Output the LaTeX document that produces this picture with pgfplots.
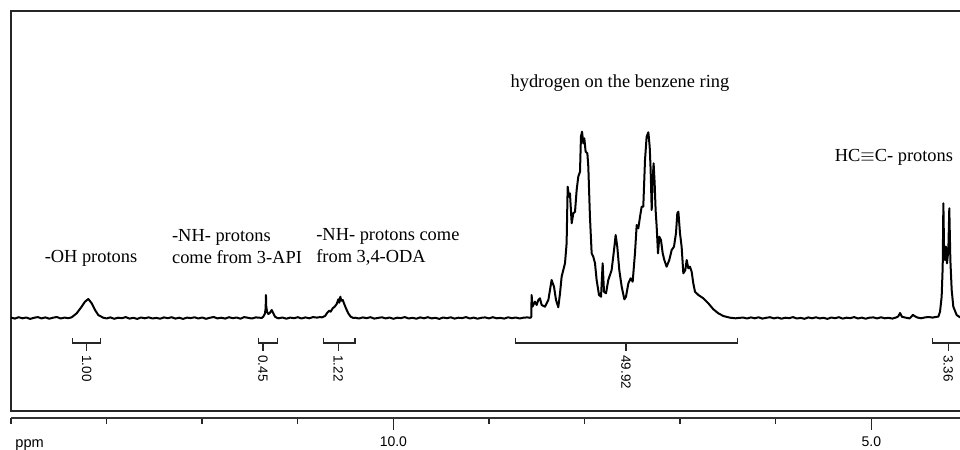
\documentclass[border=0pt]{standalone}
\usepackage{fontspec}
\setmainfont{Liberation Serif}
\setsansfont{Liberation Sans}
\usepackage{pgfplots}
\usepackage{pgfplotstable}
\pgfplotsset{compat=1.18}

% 1H NMR trace: chemical shift (ppm) and signal height
\pgfplotstableread{
ppm I
14.00 0.4
13.96 -0.6
13.92 0.8
13.88 -0.3
13.84 0.5
13.80 -0.9
13.76 0.2
13.72 0.9
13.68 -0.4
13.64 0.6
13.60 -0.7
13.56 0.3
13.52 1.0
13.48 -0.5
13.44 0.4
13.40 -0.2
13.365 0.7
13.313 4.7
13.261 11.3
13.226 16.3
13.191 19
13.156 14.7
13.121 8
13.087 3
13.035 0.3
13.00 -0.4
12.96 0.6
12.92 -0.8
12.88 0.3
12.84 -0.2
12.80 0.9
12.76 -0.6
12.72 0.2
12.68 -0.9
12.64 0.5
12.60 -0.3
12.56 0.7
12.52 -0.5
12.48 0.1
12.44 -0.7
12.40 0.6
12.36 -0.2
12.32 0.8
12.28 -0.6
12.24 0.3
12.20 -0.9
12.16 0.4
12.12 -0.1
12.08 0.7
12.04 -0.5
12.00 0.5
11.96 -0.8
11.92 0.2
11.88 1.0
11.84 -0.4
11.80 0.3
11.76 -0.6
11.72 0.8
11.68 -0.2
11.64 0.5
11.60 -0.7
11.56 0.9
11.52 0.2
11.48 -0.5
11.44 0.6
11.40 0.3
11.378 0
11.361 1.3
11.343 4.7
11.336 10
11.333 23
11.330 12
11.322 6.3
11.308 4
11.291 5.3
11.273 8
11.256 4.7
11.238 1.3
11.214 0
11.20 -0.3
11.16 0.5
11.12 -0.7
11.08 0.4
11.04 -0.2
11.00 0.8
10.96 -0.5
10.92 0.6
10.88 -0.3
10.84 0.9
10.80 0.4
10.76 1.0
10.750 0.5
10.715 2
10.691 5.3
10.670 7.3
10.656 6.3
10.635 9.7
10.614 11.3
10.593 14
10.576 18.7
10.566 15.3
10.555 21.3
10.545 17.3
10.530 18
10.517 14.7
10.496 9.7
10.472 4.7
10.447 1.3
10.419 0
10.40 0.3
10.36 -0.5
10.32 0.6
10.28 -0.2
10.24 0.8
10.20 -0.6
10.16 0.1
10.12 0.7
10.08 -0.4
10.04 0.5
10.00 -0.8
9.96 0.3
9.92 -0.1
9.88 0.9
9.84 -0.5
9.80 0.2
9.76 -0.7
9.72 0.6
9.68 -0.3
9.64 0.8
9.60 -0.4
9.56 0.2
9.52 -0.9
9.48 0.5
9.44 -0.2
9.40 0.7
9.36 -0.6
9.32 0.3
9.28 -0.1
9.24 0.9
9.20 -0.5
9.16 0.4
9.12 -0.7
9.08 0.2
9.04 0.6
9.00 -0.4
8.96 0.8
8.92 -0.3
8.88 0.1
8.84 -0.6
8.80 0.7
8.76 -0.2
8.72 0.5
8.68 -0.5
8.64 0.3
8.60 0.6
8.57 0.2
8.558 0.8
8.554 23
8.545 11.3
8.519 16.3
8.501 13
8.484 18
8.467 19.7
8.449 13
8.414 11.3
8.379 18
8.345 38
8.320 31.3
8.299 18
8.275 10.7
8.257 24.7
8.240 41.3
8.205 54.7
8.188 74.7
8.177 131.3
8.163 121.3
8.153 124.7
8.135 94.7
8.118 104.7
8.100 106.3
8.083 128
8.066 141.3
8.048 146.3
8.038 181.3
8.027 186.3
8.013 174.7
8.003 179.7
7.989 166.3
7.971 164.7
7.961 151.3
7.944 101.3
7.926 64.7
7.909 61.3
7.891 54.7
7.874 38
7.849 23
7.828 21.3
7.811 54.7
7.797 26.3
7.776 24.7
7.752 38
7.717 48
7.692 68
7.675 83
7.658 71.3
7.637 48
7.612 31.3
7.584 18.7
7.567 21.3
7.542 34.7
7.518 39.7
7.497 36.3
7.473 64.7
7.455 93
7.438 89.7
7.420 101.3
7.403 111.3
7.386 111.3
7.368 158
7.351 181.3
7.333 185.7
7.319 171.3
7.309 148
7.298 108
7.288 138
7.278 154.7
7.267 134.7
7.257 108
7.246 91.3
7.232 64.7
7.218 81.3
7.201 78
7.183 64.7
7.166 58
7.142 51.3
7.114 58
7.089 68
7.065 71.3
7.044 84.7
7.030 104.7
7.019 106.3
7.002 84.7
6.985 71.3
6.967 44.7
6.946 48
6.932 58
6.915 49.7
6.898 51.3
6.880 46.3
6.863 34.7
6.845 26.3
6.810 23
6.758 19.7
6.706 14.7
6.653 8.7
6.601 4.7
6.549 2
6.479 0.3
6.42 -0.3
6.374 0.2
6.34 0.4
6.30 -0.5
6.26 0.6
6.22 -0.3
6.18 0.7
6.14 -0.6
6.10 0.2
6.06 0.8
6.02 -0.4
5.98 0.5
5.94 -0.7
5.90 0.3
5.86 -0.2
5.82 0.9
5.78 -0.5
5.74 0.1
5.70 -0.8
5.66 0.6
5.62 -0.3
5.58 0.7
5.54 -0.4
5.50 0.2
5.46 -0.9
5.42 0.5
5.38 -0.2
5.34 0.8
5.30 -0.6
5.26 0.3
5.22 -0.1
5.18 0.9
5.14 -0.5
5.10 0.4
5.06 -0.7
5.02 0.3
4.98 0.6
4.94 -0.4
4.90 0.7
4.86 -0.3
4.82 0.2
4.78 -0.6
4.74 0.6
4.72 1.5
4.70 5.0
4.68 1.2
4.64 0.3
4.60 -0.4
4.58 1.5
4.565 3.2
4.55 2.0
4.52 0.5
4.48 -0.3
4.44 0.6
4.40 1.0
4.36 0.4
4.32 1.2
4.300 1.3
4.282 6.3
4.265 21.3
4.254 51.3
4.247 114.7
4.240 70
4.230 58
4.220 71.3
4.209 54.7
4.195 68
4.185 109.7
4.174 58
4.160 28
4.143 11.3
4.108 3
4.073 0.7
4.04 0.2
4.00 -0.3
}\spectrum

\tikzset{
  bracket/.style={black!85, line width=0.7pt},
  intlabel/.style={rotate=-90, anchor=west, inner sep=0pt,
                   font=\sffamily\fontsize{6.7}{7}\selectfont},
  note/.style={inner sep=0pt, font=\fontsize{9.2}{11}\selectfont}
}

% integral bracket: left end, right end, centre tick, value
\newcommand{\integral}[4]{%
  \draw[bracket] (axis cs:#1,-20) |- (axis cs:#2,-25) -- (axis cs:#2,-20);
  \draw[bracket] (axis cs:#3,-25) -- (axis cs:#3,-33);
  \node[intlabel] at (axis cs:#3,-37) {#4};
}

\begin{document}
\begin{tikzpicture}
\useasboundingbox (0pt,0pt) rectangle (480pt,225pt);
\clip (0pt,0pt) rectangle (480pt,225pt);

% spectrum panel
\begin{axis}[
  at={(5.5pt,19.5pt)}, anchor=south west,
  scale only axis, width=478pt, height=200pt,
  xmin=4, xmax=14, x dir=reverse,
  ymin=-93, ymax=307,
  xtick=\empty, ytick=\empty,
  axis line style={black!85, line width=0.7pt},
  clip=false,
]
\addplot[black, line width=1pt, line join=round] table[x=ppm, y=I] {\spectrum};

\integral{13.355}{13.062}{13.208}{1.00}
\integral{11.409}{11.210}{11.364}{0.45}
\integral{10.733}{10.402}{10.576}{1.22}
\integral{8.721}{6.403}{7.567}{49.92}
\integral{4.363}{4.029}{4.196}{3.36}

\node[note] at (axis cs:13.163,60) {-OH protons};
\node[note, anchor=west, align=left] at (axis cs:12.319,71) {-NH- protons\\come from 3-API};
\node[note, anchor=west, align=left] at (axis cs:10.810,71) {-NH- protons come\\from 3,4-ODA};
\node[note] at (axis cs:7.630,235) {hydrogen on the benzene ring};
\node[note] at (axis cs:4.764,161) {HC$\equiv$C- protons};
\end{axis}

% chemical shift scale
\begin{axis}[
  at={(5.5pt,16pt)}, anchor=south west,
  scale only axis, width=478pt, height=10pt,
  xmin=4, xmax=14, x dir=reverse, ymin=0, ymax=1,
  axis x line*=bottom, axis y line=none,
  xtick={5,10}, xticklabels={5.0,10.0},
  minor xtick={4,5,...,14},
  xtick align=outside,
  major tick length=6pt, minor tick length=3pt,
  every tick/.style={black!85, line width=0.7pt},
  x axis line style={black!80, line width=0.8pt},
  xticklabel style={font=\sffamily\fontsize{7}{8}\selectfont, inner sep=0pt, yshift=-3pt},
]
\end{axis}

\node[anchor=west, inner sep=0pt, font=\sffamily\fontsize{7.3}{8}\selectfont] at (7.5pt,2.3pt) {ppm};
\end{tikzpicture}
\end{document}
